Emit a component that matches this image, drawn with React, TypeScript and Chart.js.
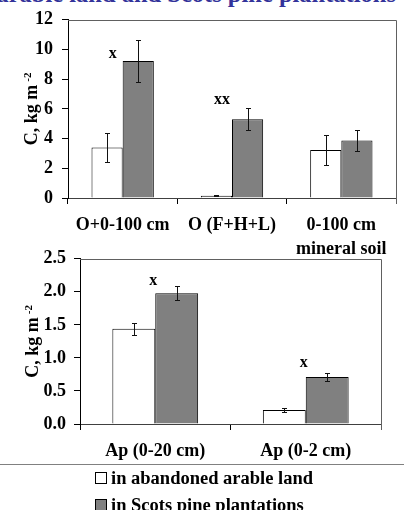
import React, { useEffect, useRef } from 'react';
import { Chart, registerables } from 'chart.js';

Chart.register(...registerables);

const SERIF = '"Liberation Serif", "Times New Roman", serif';

// ---------- data ----------
const seriesNames = ['in abandoned arable land', 'in Scots pine plantations'];
const seriesColors = ['#ffffff', '#808080'];

const topCategories: string[][] = [['O+0-100 cm'], ['O (F+H+L)'], ['0-100 cm', 'mineral soil']];
const topArable = [3.4, 0.15, 3.23];
const topArableErr = [1.0, 0.03, 0.98];
const topPine = [9.22, 5.3, 3.88];
const topPineErr = [1.42, 0.73, 0.7];
const topMarks = ['x', 'xx', ''];
const topMarkValues = [9.7, 6.6, 0];
const topYMax = 12;
const topYStep = 2;

const bottomCategories: string[] = ['Ap (0-20 cm)', 'Ap (0-2 cm)'];
const bottomArable = [1.44, 0.21];
const bottomArableErr = [0.095, 0.03];
const bottomPine = [1.98, 0.71];
const bottomPineErr = [0.11, 0.055];
const bottomMarks = ['x', 'x'];
const bottomMarkValues = [2.17, 0.93];
const bottomYMax = 2.5;
const bottomYStep = 0.5;

const titleText = 'arable land and Scots pine plantations';
const yTitleMain = 'C, kg m';
const yTitleSup = '-2';

type PanelProps = {
  categories: any[];
  arable: number[];
  arableErr: number[];
  pine: number[];
  pineErr: number[];
  marks: string[];
  markValues: number[];
  yMax: number;
  yStep: number;
  decimals: number;
  width: number;
  height: number;
  area: { left: number; top: number; right: number; bottom: number };
  markOffset: number;
  yTickPadding: number;
  xTickPadding: number;
  titleBaselineX: number;
  top: number;
};

function Panel(p: PanelProps) {
  const ref = useRef<HTMLCanvasElement | null>(null);
  useEffect(() => {
    if (!ref.current) return;
    const font = { family: SERIF, size: 18, weight: 'bold' as const, lineHeight: 1.3 };

    const errorBars = {
      id: 'errorBars',
      afterDatasetsDraw(chart: any) {
        const ctx = chart.ctx;
        const y = chart.scales.y;
        chart.data.datasets.forEach((ds: any, i: number) => {
          const meta = chart.getDatasetMeta(i);
          meta.data.forEach((el: any, j: number) => {
            const v = ds.data[j];
            const e = ds.errors[j];
            const yt = Math.round(y.getPixelForValue(v + e)) + 0.5;
            const yb = Math.round(y.getPixelForValue(v - e)) + 0.5;
            const x = Math.round(el.x) + 0.5;
            ctx.save();
            ctx.strokeStyle = '#111';
            ctx.lineWidth = 1;
            ctx.beginPath();
            ctx.moveTo(x, yt);
            ctx.lineTo(x, yb);
            ctx.moveTo(x - 2.5, yt);
            ctx.lineTo(x + 2.5, yt);
            ctx.moveTo(x - 2.5, yb);
            ctx.lineTo(x + 2.5, yb);
            ctx.stroke();
            ctx.restore();
          });
        });
      },
    };

    const marksPlugin = {
      id: 'marks',
      afterDatasetsDraw(chart: any) {
        const ctx = chart.ctx;
        const xs = chart.scales.x;
        const ys = chart.scales.y;
        ctx.save();
        ctx.font = `bold 16px ${SERIF}`;
        ctx.fillStyle = '#000';
        ctx.textAlign = 'center';
        ctx.textBaseline = 'middle';
        p.marks.forEach((m, j) => {
          if (!m) return;
          ctx.fillText(m, xs.getPixelForValue(j) + p.markOffset, ys.getPixelForValue(p.markValues[j]));
        });
        ctx.restore();
      },
    };

    const frame = {
      id: 'frame',
      afterDraw(chart: any) {
        const { left, top, right, bottom } = chart.chartArea;
        const ctx = chart.ctx;
        ctx.save();
        ctx.strokeStyle = '#606060';
        ctx.lineWidth = 1;
        ctx.beginPath();
        ctx.moveTo(left, Math.round(top) + 0.5);
        ctx.lineTo(Math.round(right) + 0.5, Math.round(top) + 0.5);
        ctx.lineTo(Math.round(right) + 0.5, bottom + 6);
        ctx.stroke();
        ctx.restore();
      },
    };

    const yTitle = {
      id: 'yTitle',
      afterDraw(chart: any) {
        const ctx = chart.ctx;
        const { top, bottom } = chart.chartArea;
        const cy = (top + bottom) / 2;
        ctx.save();
        ctx.fillStyle = '#000';
        ctx.font = `bold 18px ${SERIF}`;
        const w1 = ctx.measureText(yTitleMain).width;
        ctx.font = `bold 11px ${SERIF}`;
        const w2 = ctx.measureText(yTitleSup).width;
        const total = w1 + 3 + w2;
        ctx.translate(p.titleBaselineX, cy + total / 2);
        ctx.rotate(-Math.PI / 2);
        ctx.textBaseline = 'alphabetic';
        ctx.textAlign = 'left';
        ctx.font = `bold 18px ${SERIF}`;
        ctx.fillText(yTitleMain, 0, 0);
        ctx.font = `bold 11px ${SERIF}`;
        ctx.fillText(yTitleSup, w1 + 3, -6);
        ctx.restore();
      },
    };

    const chart = new Chart(ref.current, {
      type: 'bar',
      data: {
        labels: p.categories,
        datasets: [
          {
            label: seriesNames[0],
            data: p.arable,
            errors: p.arableErr,
            backgroundColor: seriesColors[0],
            borderColor: '#000',
            borderWidth: 1,
            categoryPercentage: 0.57,
            barPercentage: 1,
          } as any,
          {
            label: seriesNames[1],
            data: p.pine,
            errors: p.pineErr,
            backgroundColor: seriesColors[1],
            borderColor: '#000',
            borderWidth: 1,
            categoryPercentage: 0.57,
            barPercentage: 1,
          } as any,
        ],
      },
      options: {
        responsive: false,
        animation: false,
        devicePixelRatio: 1,
        layout: {
          padding: { left: 0, top: p.area.top, right: p.width - p.area.right, bottom: 0 },
        },
        plugins: { legend: { display: false }, tooltip: { enabled: false }, title: { display: false } },
        scales: {
          x: {
            offset: true,
            grid: { offset: true, drawOnChartArea: false, drawTicks: true, tickLength: 6, color: '#000' },
            border: { color: '#404040', width: 1 },
            ticks: { font, color: '#000', padding: p.xTickPadding, maxRotation: 0, autoSkip: false },
            afterFit: (s: any) => {
              s.height = p.height - p.area.bottom;
            },
          },
          y: {
            min: 0,
            max: p.yMax,
            grid: { drawOnChartArea: false, drawTicks: true, tickLength: 6, color: '#000' },
            border: { color: '#000', width: 1 },
            ticks: {
              stepSize: p.yStep,
              font: { ...font, lineHeight: 1.2 },
              color: '#000',
              padding: p.yTickPadding,
              callback: (v: any) => Number(v).toFixed(p.decimals),
            },
            afterFit: (s: any) => {
              s.width = p.area.left;
            },
          },
        },
      } as any,
      plugins: [errorBars, marksPlugin, frame, yTitle],
    });
    return () => chart.destroy();
  }, []);
  return (
    <canvas
      ref={ref}
      width={p.width}
      height={p.height}
      style={{ position: 'absolute', left: 0, top: p.top, width: p.width, height: p.height, display: 'block' }}
    />
  );
}

export default function App() {
  useEffect(() => {
    document.body.style.margin = '0';
  }, []);
  const legendFont: React.CSSProperties = {
    position: 'absolute',
    fontFamily: SERIF,
    fontWeight: 'bold',
    fontSize: 18.5,
    lineHeight: '18.5px',
    whiteSpace: 'nowrap',
    color: '#000',
  };
  return (
    <div
      style={{
        position: 'absolute',
        left: 0,
        top: 0,
        width: 404,
        height: 510,
        overflow: 'hidden',
        background: '#fff',
      }}
    >
      <div
        style={{
          position: 'absolute',
          right: 8,
          top: -18,
          fontFamily: SERIF,
          fontWeight: 'bold',
          fontSize: 24.5,
          lineHeight: '24.5px',
          color: '#33339a',
          whiteSpace: 'nowrap',
        }}
      >
        {titleText}
      </div>
      <Panel
        categories={topCategories}
        arable={topArable}
        arableErr={topArableErr}
        pine={topPine}
        pineErr={topPineErr}
        marks={topMarks}
        markValues={topMarkValues}
        yMax={topYMax}
        yStep={topYStep}
        decimals={0}
        width={404}
        height={262}
        area={{ left: 68, top: 15, right: 396, bottom: 198 }}
        markOffset={-10}
        yTickPadding={9}
        xTickPadding={10}
        titleBaselineX={37}
        top={0}
      />
      <Panel
        categories={bottomCategories}
        arable={bottomArable}
        arableErr={bottomArableErr}
        pine={bottomPine}
        pineErr={bottomPineErr}
        marks={bottomMarks}
        markValues={bottomMarkValues}
        yMax={bottomYMax}
        yStep={bottomYStep}
        decimals={1}
        width={404}
        height={228}
        area={{ left: 80, top: 16, right: 381, bottom: 184 }}
        markOffset={-2}
        yTickPadding={8}
        xTickPadding={10}
        titleBaselineX={38}
        top={240}
      />
      <div style={{ position: 'absolute', left: 0, top: 464, width: 404, height: 1, background: '#808080' }} />
      <div
        style={{
          position: 'absolute',
          left: 95,
          top: 472,
          width: 10,
          height: 10,
          border: '1px solid #000',
          background: seriesColors[0],
        }}
      />
      <div style={{ ...legendFont, left: 111, top: 468.5 }}>{seriesNames[0]}</div>
      <div
        style={{
          position: 'absolute',
          left: 95,
          top: 499,
          width: 10,
          height: 10,
          border: '1px solid #000',
          background: seriesColors[1],
        }}
      />
      <div style={{ ...legendFont, left: 111, top: 495.5 }}>{seriesNames[1]}</div>
    </div>
  );
}
